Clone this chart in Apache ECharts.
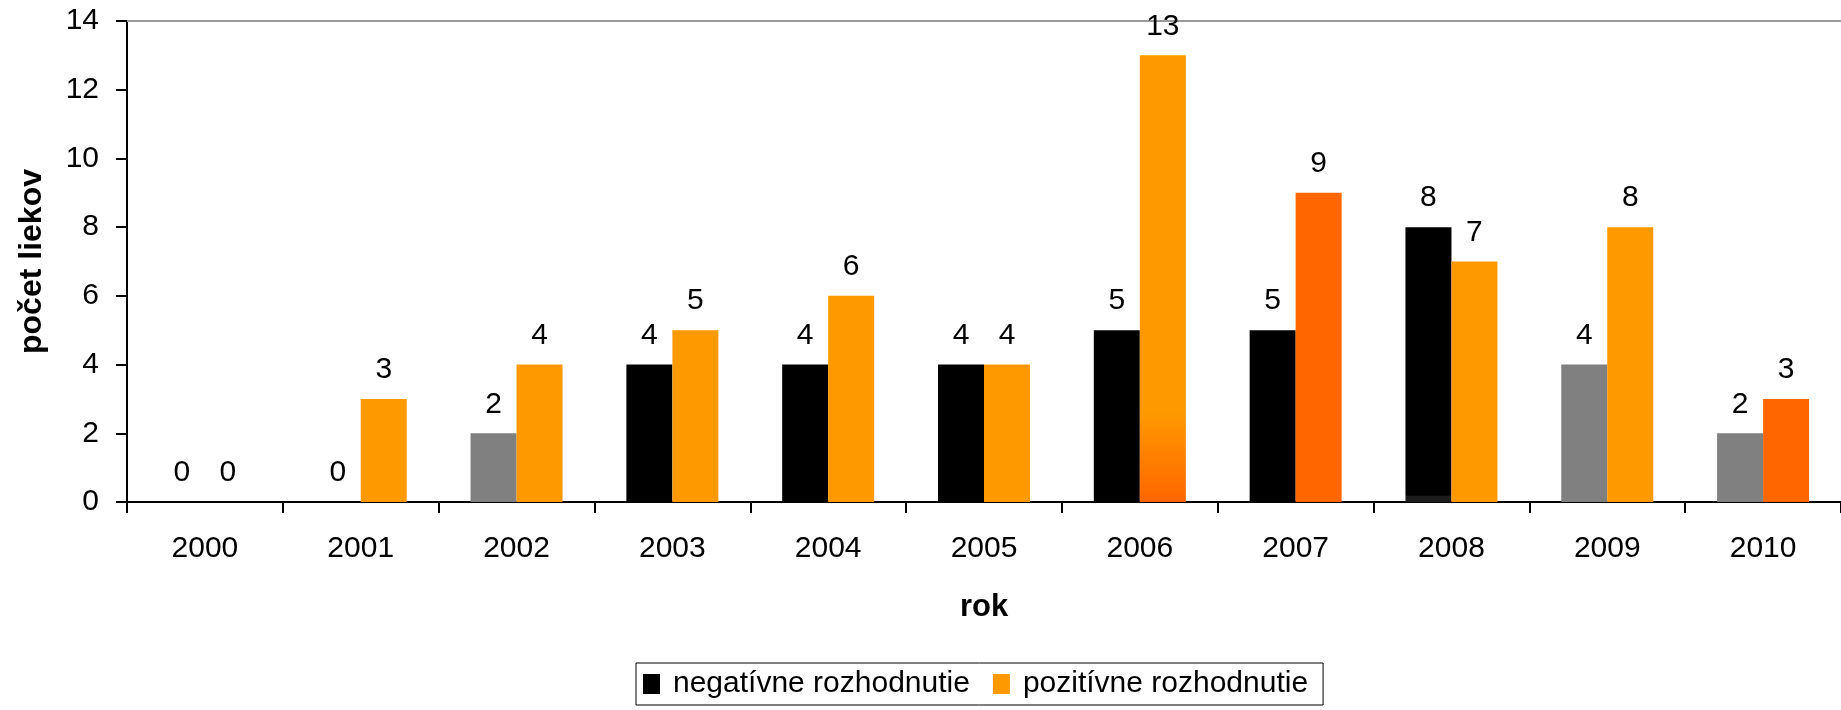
<!DOCTYPE html>
<html>
<head>
<meta charset="utf-8">
<script src="https://cdn.jsdelivr.net/npm/echarts@6/dist/echarts.min.js"></script>
<style>
html,body{margin:0;padding:0;background:#fff;}
#chart{width:1841px;height:710px;}
</style>
</head>
<body>
<div id="chart"></div>
<script>
// ---- data ----
const years = ['2000','2001','2002','2003','2004','2005','2006','2007','2008','2009','2010'];
const negative = [0,0,2,4,4,4,5,5,8,4,2];
const positive = [0,3,4,5,6,4,13,9,7,8,3];
const yTicks = [0,2,4,6,8,10,12,14];
const seriesNames = ['negatívne rozhodnutie','pozitívne rozhodnutie'];

// ---- styles (per bar fill keys, kept apart from data) ----
const negFill = ['black','black','gray','black','black','black','black','black','blackFade','gray','gray'];
const posFill = ['orange','orange','orange','orange','orange','orange','orangeFade','dark','orange','orange','dark'];

const palette = {
  black: '#000000',
  gray: '#808080',
  orange: '#FF9900',
  dark: '#FF6600',
  orangeFade: {type:'linear',x:0,y:0,x2:0,y2:1,colorStops:[
    {offset:0,color:'#FF9900'},{offset:0.8,color:'#FF9900'},{offset:1,color:'#FF6600'}]},
  blackFade: {type:'linear',x:0,y:0,x2:0,y2:1,colorStops:[
    {offset:0,color:'#000000'},{offset:0.975,color:'#000000'},{offset:0.98,color:'#1c1c1c'},{offset:1,color:'#1c1c1c'}]}
};

const FONT = '"Liberation Sans", Arial, sans-serif';
const FS = 30;

function build(values, fills){
  return values.map((v,i)=>({value:v, itemStyle:{color:palette[fills[i]]}}));
}

const labelCfg = {show:true, position:'top', distance:14, color:'#000', fontFamily:FONT, fontSize:FS};

const chart = echarts.init(document.getElementById('chart'), null, {renderer:'canvas'});
chart.setOption({
  animation:false,
  backgroundColor:'#fff',
  grid:{left:127, right:0, top:21, bottom:208, containLabel:false},
  legend:{
    left:636, top:663,
    padding:[6,15,6,7],
    borderColor:'#000', borderWidth:1,
    itemWidth:17, itemHeight:20, itemGap:23,
    icon:'rect',
    data:[{name:seriesNames[0], itemStyle:{color:'#000'}},{name:seriesNames[1], itemStyle:{color:'#FF9900'}}],
    textStyle:{fontFamily:FONT, fontSize:FS, color:'#000', padding:[0,0,0,8]}
  },
  xAxis:[{
    type:'category',
    data:years,
    position:'bottom',
    name:'rok',
    nameLocation:'middle',
    nameGap:90,
    nameTextStyle:{fontFamily:FONT, fontSize:31, fontWeight:'bold', color:'#000'},
    axisLine:{show:true, lineStyle:{color:'#000', width:2}},
    axisTick:{show:true, length:11, lineStyle:{color:'#000', width:2}},
    axisLabel:{fontFamily:FONT, fontSize:FS, color:'#000', margin:32},
    splitLine:{show:false}
  },{
    type:'category',
    data:years,
    position:'top',
    axisLine:{show:true, lineStyle:{color:'#9a9a9a', width:2}},
    axisTick:{show:false},
    axisLabel:{show:false},
    splitLine:{show:false}
  }],
  yAxis:{
    type:'value',
    min:yTicks[0], max:yTicks[yTicks.length-1], interval:yTicks[1]-yTicks[0],
    name:'počet liekov',
    nameLocation:'middle',
    nameGap:79,
    nameTextStyle:{fontFamily:FONT, fontSize:32, fontWeight:'bold', color:'#000'},
    axisLine:{show:true, lineStyle:{color:'#000', width:2}},
    axisTick:{show:true, length:11, lineStyle:{color:'#000', width:2}},
    axisLabel:{fontFamily:FONT, fontSize:FS, color:'#000', margin:28},
    splitLine:{show:false}
  },
  series:[{
    name:seriesNames[0],
    type:'bar',
    barWidth:46,
    barGap:'0%',
    itemStyle:{color:'#000'},
    label:labelCfg,
    data:build(negative, negFill)
  },{
    name:seriesNames[1],
    type:'bar',
    barWidth:46,
    barGap:'0%',
    itemStyle:{color:'#FF9900'},
    label:labelCfg,
    data:build(positive, posFill)
  }]
});
</script>
</body>
</html>
